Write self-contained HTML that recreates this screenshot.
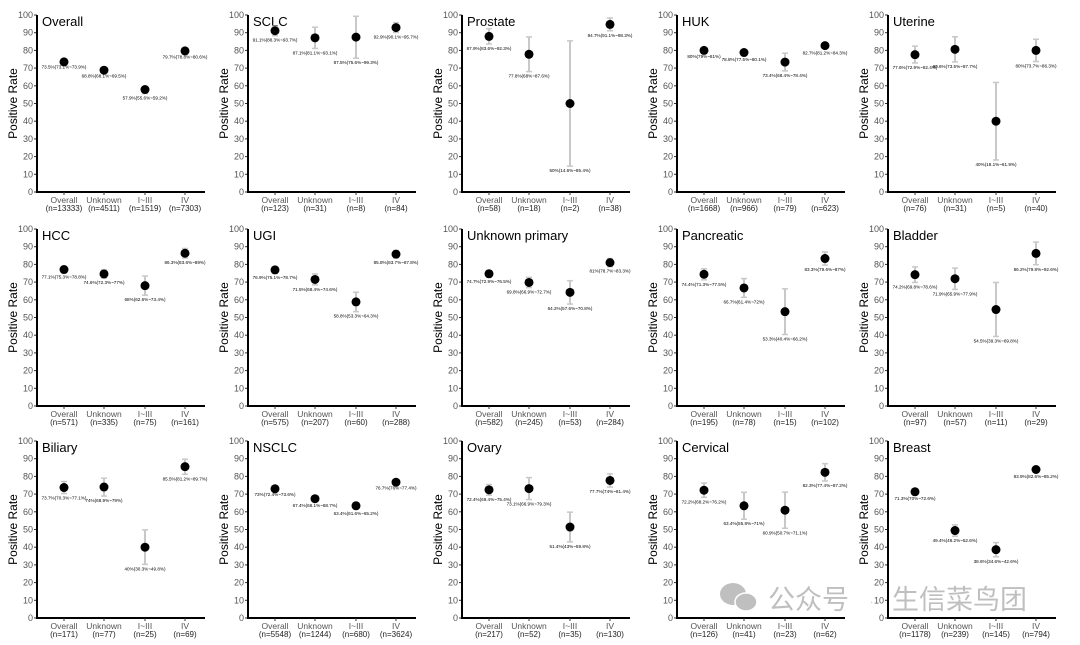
<!DOCTYPE html>
<html><head><meta charset="utf-8"><style>
body{margin:0;background:#fff;width:1080px;height:640px;overflow:hidden}
svg text{font-family:"Liberation Sans",Arial,sans-serif}
</style></head><body>
<svg id="c" width="1080" height="640" xmlns="http://www.w3.org/2000/svg"></svg>
<script>
const categories=["Overall","Unknown","I~III","IV"];
const titles=["Overall","SCLC","Prostate","HUK","Uterine","HCC","UGI","Unknown primary","Pancreatic","Bladder","Biliary","NSCLC","Ovary","Cervical","Breast"];
const rates=[[73.5,68.8,57.9,79.7],[91.1,87.1,87.5,92.9],[87.9,77.8,50,94.7],[80,78.8,73.4,82.7],[77.6,80.6,40,80],
[77.1,74.6,68,86.3],[76.9,71.5,58.8,85.8],[74.7,69.8,64.2,81],[74.4,66.7,53.3,83.3],[74.2,71.9,54.5,86.2],
[73.7,74,40,85.5],[73,67.4,63.4,76.7],[72.4,73.1,51.4,77.7],[72.2,63.4,60.9,82.3],[71.3,49.4,38.6,83.9]];
const lower=[[73.1,68.1,55.6,78.8],[88.3,81.1,75.6,90.1],[83.6,68,14.6,91.1],[79,77.5,68.4,81.2],[72.9,73.5,18.1,73.7],
[75.3,72.3,62.6,83.6],[75.1,68.4,53.3,83.7],[72.9,66.9,57.6,78.7],[71.3,61.4,40.4,79.6],[69.8,65.9,39.3,79.8],
[70.3,68.9,30.3,81.2],[72.4,66.1,61.6,76],[69.4,66.9,43,74],[68.2,55.8,50.7,77.4],[70,46.2,34.6,82.6]];
const upper=[[73.9,69.5,59.2,80.6],[93.7,93.1,99.3,95.7],[92.3,87.6,85.4,98.3],[81,80.1,78.4,84.3],[82.4,87.7,61.9,86.3],
[78.8,77,73.4,89],[78.7,74.6,64.3,87.8],[76.5,72.7,70.8,83.3],[77.5,72,66.2,87],[78.6,77.9,69.8,92.6],
[77.1,79,49.8,89.7],[73.6,68.7,65.2,77.4],[75.4,79.3,59.8,81.4],[76.2,71,71.1,87.2],[72.6,52.6,42.6,85.2]];
const counts=[[13333,4511,1519,7303],[123,31,8,84],[58,18,2,38],[1668,966,79,623],[76,31,5,40],
[571,335,75,161],[575,207,60,288],[582,245,53,284],[195,78,15,102],[97,57,11,29],
[171,77,25,69],[5548,1244,680,3624],[217,52,35,130],[126,41,23,62],[1178,239,145,794]];
const yTicks=[0,10,20,30,40,50,60,70,80,90,100];

const svg=document.getElementById('c');
const NS="http://www.w3.org/2000/svg";
function mk(tag,attrs,parent,txt){const e=document.createElementNS(NS,tag);for(const k in attrs)e.setAttribute(k,attrs[k]);if(txt!==undefined)e.textContent=txt;parent.appendChild(e);return e;}
const colX=[37,248,462,677,888];
const rowTop=[15,229,441];
const H=177;
const catOff=[27,67,108,148];
function fmt(v){return (Math.round(v*10)/10)+"%";}
titles.forEach((t,p)=>{
  const ax=colX[p%5], top=rowTop[Math.floor(p/5)], y0=top+H;
  const ys=v=>y0-v/100*H;
  const xs=i=>ax+catOff[i];
  const g=mk('g',{},svg);
  
  
  const yx=ax-20;
  const yl=mk('text',{x:yx,y:top+H/2,'font-size':12,'text-anchor':'middle',transform:`rotate(-90 ${yx} ${top+H/2})`},g,"Positive Rate");
  
  
  yTicks.forEach(v=>{
    mk('line',{x1:ax-3,x2:ax,y1:ys(v),y2:ys(v),stroke:'#333','stroke-width':1},g);
    const tl=mk('text',{x:ax-4,y:ys(v)+3,'font-size':9,fill:'#555','text-anchor':'end'},g,String(v));
    
    
  });
  mk('line',{x1:ax,x2:ax,y1:top,y2:y0+1,stroke:'#000','stroke-width':2},g);
  mk('line',{x1:ax-1,x2:ax+168,y1:y0,y2:y0,stroke:'#000','stroke-width':2},g);
  const tt=mk('text',{x:ax+5,y:top+11,'font-size':13},g,t);
  
  
  categories.forEach((c,i)=>{
    const x=xs(i);
    mk('line',{x1:x,x2:x,y1:y0,y2:y0+3,stroke:'#333'},g);
    const cl=mk('text',{x:x,y:y0+11,'font-size':8.5,fill:'#555','text-anchor':'middle'},g,c);
    
    
    const nl=mk('text',{x:x,y:y0+19,'font-size':8,fill:'#222','text-anchor':'middle'},g,"(n="+counts[p][i]+")");
    
    
    const lo=lower[p][i], hi=upper[p][i], r=rates[p][i];
    const eb=mk('g',{},g);
    
    
    mk('line',{x1:x,x2:x,y1:ys(hi),y2:ys(lo),stroke:'#c8c8c8','stroke-width':2},eb);
    mk('line',{x1:x-3,x2:x+3,y1:ys(hi),y2:ys(hi),stroke:'#c8c8c8','stroke-width':1.5},eb);
    mk('line',{x1:x-3,x2:x+3,y1:ys(lo),y2:ys(lo),stroke:'#c8c8c8','stroke-width':1.5},eb);
    const pt=mk('circle',{cx:x,cy:ys(r),r:4.5,fill:'#000'},g);
    
    
    const vl=mk('text',{x:x,y:ys(lo)+6,'font-size':4.6,'text-anchor':'middle'},g,fmt(r)+"("+fmt(lo)+"~"+fmt(hi)+")");
    
    
  });
});
const wm=mk('g',{opacity:0.75},svg);


mk('ellipse',{cx:733,cy:594,rx:13,ry:11,fill:'#aaa'},wm);
mk('ellipse',{cx:746,cy:602,rx:11,ry:9,fill:'#aaa',stroke:'#fff','stroke-width':1.5},wm);
mk('text',{x:768,y:609,'font-size':27,fill:'#aaa','font-family':'"Noto Sans CJK SC",sans-serif'},wm,"公众号");
mk('text',{x:870,y:605,'font-size':10,fill:'#aaa'},wm,"·");
mk('text',{x:892,y:609,'font-size':27,fill:'#aaa','font-family':'"Noto Sans CJK SC",sans-serif'},wm,"生信菜鸟团");
</script>
</body></html>
